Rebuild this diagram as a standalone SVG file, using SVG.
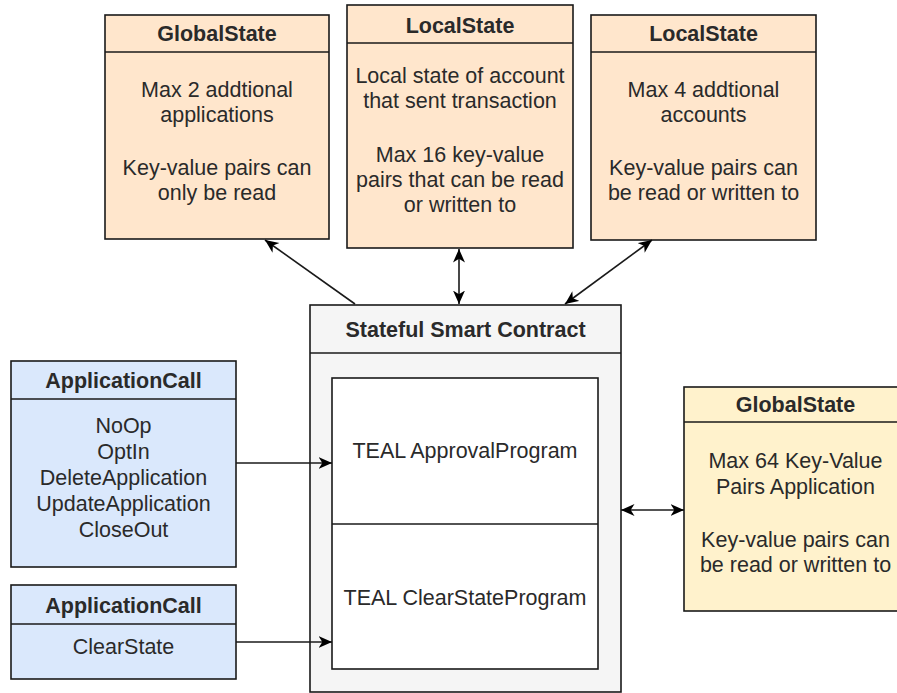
<svg xmlns="http://www.w3.org/2000/svg" width="897" height="693" viewBox="0 0 897 693">
<style>
  .box { stroke:#1a1a1a; stroke-width:1.6; }
  .div { stroke:#1a1a1a; stroke-width:1.6; fill:none; }
  .orange { fill:#ffe6cc; }
  .blue { fill:#dae8fc; }
  .yellow { fill:#fff2cc; }
  .grey { fill:#f5f5f5; }
  .white { fill:#ffffff; }
  text { font-family:"Liberation Sans", Arial, sans-serif; font-size:21.5px; fill:#2a2a2a; text-anchor:middle; }
  .h { font-weight:bold; }
  .conn { stroke:#1a1a1a; stroke-width:1.6; fill:none; }
</style>
<defs>
  <marker id="arr" markerUnits="userSpaceOnUse" markerWidth="14" markerHeight="13" viewBox="0 0 14 13" refX="13.5" refY="6.5" orient="auto-start-reverse">
    <path d="M0,0.5 L13.5,6.5 L0,12.5 L3.8,6.5 Z" fill="#000"/>
  </marker>
</defs>

<g id="globalstate-top">
  <rect class="box orange" x="105" y="15" width="224" height="224"/>
  <line class="div" x1="105" y1="52" x2="329" y2="52"/>
  <text class="h" x="217" y="41">GlobalState</text>
  <text x="217" y="97">Max 2 addtional</text>
  <text x="217" y="122">applications</text>
  <text x="217" y="175">Key-value pairs can</text>
  <text x="217" y="200">only be read</text>
</g>

<g id="localstate-sender">
  <rect class="box orange" x="347" y="5" width="226" height="243"/>
  <line class="div" x1="347" y1="43" x2="573" y2="43"/>
  <text class="h" x="460" y="33">LocalState</text>
  <text x="460" y="83">Local state of account</text>
  <text x="460" y="108">that sent transaction</text>
  <text x="460" y="162">Max 16 key-value</text>
  <text x="460" y="187">pairs that can be read</text>
  <text x="460" y="212">or written to</text>
</g>

<g id="localstate-additional">
  <rect class="box orange" x="591" y="15" width="225" height="225"/>
  <line class="div" x1="591" y1="52" x2="816" y2="52"/>
  <text class="h" x="703.5" y="41">LocalState</text>
  <text x="703.5" y="97">Max 4 addtional</text>
  <text x="703.5" y="122">accounts</text>
  <text x="703.5" y="175">Key-value pairs can</text>
  <text x="703.5" y="200">be read or written to</text>
</g>

<g id="stateful-smart-contract">
  <rect class="box grey" x="310" y="305" width="311" height="387"/>
  <line class="div" x1="310" y1="353" x2="621" y2="353"/>
  <text class="h" x="465.5" y="337">Stateful Smart Contract</text>
</g>

<g id="teal-programs">
  <rect class="box white" x="332" y="378" width="266" height="291"/>
  <line class="div" x1="332" y1="524" x2="598" y2="524"/>
  <text x="465" y="458">TEAL ApprovalProgram</text>
  <text x="465" y="605">TEAL ClearStateProgram</text>
</g>

<g id="applicationcall-main">
  <rect class="box blue" x="11" y="361" width="225" height="206"/>
  <line class="div" x1="11" y1="399" x2="236" y2="399"/>
  <text class="h" x="123.5" y="388">ApplicationCall</text>
  <text x="123.5" y="433">NoOp</text>
  <text x="123.5" y="459">OptIn</text>
  <text x="123.5" y="485">DeleteApplication</text>
  <text x="123.5" y="511">UpdateApplication</text>
  <text x="123.5" y="537">CloseOut</text>
</g>

<g id="applicationcall-clear">
  <rect class="box blue" x="11" y="585" width="225" height="94"/>
  <line class="div" x1="11" y1="624" x2="236" y2="624"/>
  <text class="h" x="123.5" y="613">ApplicationCall</text>
  <text x="123.5" y="654">ClearState</text>
</g>

<g id="globalstate-app">
  <rect class="box yellow" x="684" y="387" width="224" height="224"/>
  <line class="div" x1="684" y1="422" x2="908" y2="422"/>
  <text class="h" x="795.5" y="412">GlobalState</text>
  <text x="795.5" y="468">Max 64 Key-Value</text>
  <text x="795.5" y="494">Pairs Application</text>
  <text x="795.5" y="547">Key-value pairs can</text>
  <text x="795.5" y="572">be read or written to</text>
</g>

<g id="connectors">
  <path class="conn" d="M355,304 L265,240" marker-end="url(#arr)"/>
  <path class="conn" d="M459,249 L459,304" marker-start="url(#arr)" marker-end="url(#arr)"/>
  <path class="conn" d="M652,240 L565,304" marker-start="url(#arr)" marker-end="url(#arr)"/>
  <path class="conn" d="M236,463 L332,463" marker-end="url(#arr)"/>
  <path class="conn" d="M236,642 L332,642" marker-end="url(#arr)"/>
  <path class="conn" d="M621,510 L684,510" marker-start="url(#arr)" marker-end="url(#arr)"/>
</g>
</svg>
